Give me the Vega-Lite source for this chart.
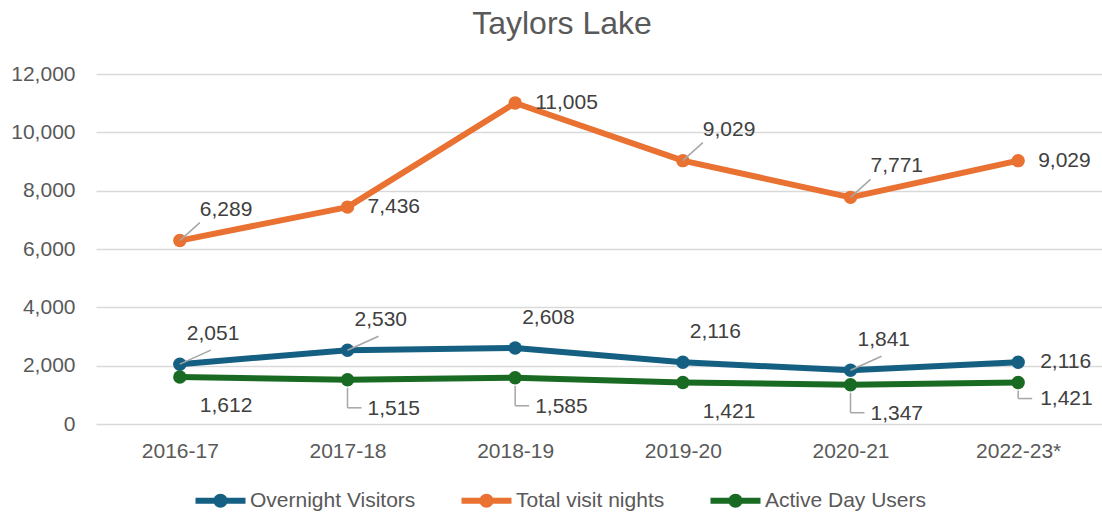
{
  "$schema": "https://vega.github.io/schema/vega-lite/v6.json",
  "width": 1006,
  "height": 350,
  "autosize": "none",
  "padding": {"left": 96, "top": 74, "right": 0, "bottom": 89},
  "background": "white",
  "config": {
    "view": {"stroke": null},
    "font": "Liberation Sans"
  },
  "title": {
    "text": "Taylors Lake",
    "fontSize": 32,
    "fontWeight": "normal",
    "font": "Liberation Sans",
    "color": "#595959",
    "anchor": "middle",
    "frame": "group",
    "dx": -37,
    "offset": 22
  },
  "data": {
    "values": [
      {"year": "2016-17", "series": "Overnight Visitors", "value": 2051},
      {"year": "2017-18", "series": "Overnight Visitors", "value": 2530},
      {"year": "2018-19", "series": "Overnight Visitors", "value": 2608},
      {"year": "2019-20", "series": "Overnight Visitors", "value": 2116},
      {"year": "2020-21", "series": "Overnight Visitors", "value": 1841},
      {"year": "2022-23*", "series": "Overnight Visitors", "value": 2116},
      {"year": "2016-17", "series": "Total visit nights", "value": 6289},
      {"year": "2017-18", "series": "Total visit nights", "value": 7436},
      {"year": "2018-19", "series": "Total visit nights", "value": 11005},
      {"year": "2019-20", "series": "Total visit nights", "value": 9029},
      {"year": "2020-21", "series": "Total visit nights", "value": 7771},
      {"year": "2022-23*", "series": "Total visit nights", "value": 9029},
      {"year": "2016-17", "series": "Active Day Users", "value": 1612},
      {"year": "2017-18", "series": "Active Day Users", "value": 1515},
      {"year": "2018-19", "series": "Active Day Users", "value": 1585},
      {"year": "2019-20", "series": "Active Day Users", "value": 1421},
      {"year": "2020-21", "series": "Active Day Users", "value": 1347},
      {"year": "2022-23*", "series": "Active Day Users", "value": 1421}
    ]
  },
  "encoding": {
    "x": {
      "field": "year",
      "type": "ordinal",
      "sort": null,
      "scale": {"type": "point", "padding": 0.5},
      "axis": {
        "title": null,
        "labelAngle": 0,
        "labelFontSize": 21,
        "labelColor": "#595959",
        "labelFont": "Liberation Sans",
        "labelPadding": 16,
        "ticks": false,
        "domain": false,
        "grid": false
      }
    },
    "y": {
      "field": "value",
      "type": "quantitative",
      "scale": {"domain": [0, 12000], "nice": false, "zero": true},
      "axis": {
        "title": null,
        "values": [0, 2000, 4000, 6000, 8000, 10000, 12000],
        "format": ",d",
        "labelFontSize": 21,
        "labelColor": "#595959",
        "labelFont": "Liberation Sans",
        "labelPadding": 21,
        "ticks": false,
        "domain": false,
        "grid": true,
        "gridColor": "#d9d9d9",
        "gridWidth": 1.5
      }
    }
  },
  "layer": [
    {
      "mark": {"type": "line", "strokeWidth": 6, "strokeCap": "round", "strokeJoin": "round"},
      "encoding": {
        "color": {
          "field": "series",
          "type": "nominal",
          "scale": {
            "domain": ["Overnight Visitors", "Total visit nights", "Active Day Users"],
            "range": ["#156082", "#E97132", "#196B24"]
          },
          "legend": {
            "title": null,
            "orient": "none",
            "direction": "horizontal",
            "legendX": 114,
            "legendY": 416,
            "symbolType": "M-2.5,-0.3L2.5,-0.3L2.5,0.3L-2.5,0.3Z M0.7,0A0.7,0.7,0,1,1,-0.7,0A0.7,0.7,0,1,1,0.7,0Z",
            "symbolSize": 400,
            "symbolStrokeWidth": 0,
            "symbolOpacity": 1,
            "labelOffset": 19,
            "columnPadding": 45,
            "labelFontSize": 21,
            "labelFont": "Liberation Sans",
            "labelColor": "#595959",
            "labelLimit": 400,
            "encode": {
              "symbols": {"update": {"fill": {"scale": "color", "field": "value"}, "strokeWidth": {"value": 0}}}
            }
          }
        }
      }
    },
    {
      "mark": {"type": "point", "filled": true, "size": 180, "opacity": 1},
      "encoding": {
        "color": {"field": "series", "type": "nominal"}
      }
    },
    {
      "transform": [
        {"filter": {"field": "series", "equal": "Total visit nights"}},
        {"filter": {"field": "year", "oneOf": ["2016-17", "2019-20", "2020-21"]}}
      ],
      "mark": {"type": "rule", "color": "#a6a6a6", "strokeWidth": 1.5, "x2Offset": 20, "y2Offset": -18},
      "encoding": {"x2": {"field": "year"}, "y2": {"field": "value"}}
    },
    {
      "transform": [
        {"filter": {"field": "series", "equal": "Overnight Visitors"}},
        {"filter": {"field": "year", "oneOf": ["2016-17", "2017-18", "2020-21"]}}
      ],
      "mark": {"type": "rule", "color": "#a6a6a6", "strokeWidth": 1.5, "x2Offset": 31, "y2Offset": -14},
      "encoding": {"x2": {"field": "year"}, "y2": {"field": "value"}}
    },
    {
      "transform": [
        {"filter": {"field": "series", "equal": "Active Day Users"}},
        {"filter": {"field": "year", "oneOf": ["2017-18", "2018-19", "2020-21"]}}
      ],
      "mark": {"type": "rule", "color": "#a6a6a6", "strokeWidth": 1.5, "yOffset": 8, "y2Offset": 28},
      "encoding": {"y2": {"field": "value"}}
    },
    {
      "transform": [
        {"filter": {"field": "series", "equal": "Active Day Users"}},
        {"filter": {"field": "year", "oneOf": ["2017-18", "2018-19", "2020-21"]}}
      ],
      "mark": {"type": "rule", "color": "#a6a6a6", "strokeWidth": 1.5, "yOffset": 28, "y2Offset": 28, "x2Offset": 14},
      "encoding": {"x2": {"field": "year"}, "y2": {"field": "value"}}
    },
    {
      "transform": [
        {"filter": {"field": "series", "equal": "Active Day Users"}},
        {"filter": {"field": "year", "equal": "2022-23*"}}
      ],
      "mark": {"type": "rule", "color": "#a6a6a6", "strokeWidth": 1.5, "yOffset": 8, "y2Offset": 16},
      "encoding": {"y2": {"field": "value"}}
    },
    {
      "transform": [
        {"filter": {"field": "series", "equal": "Active Day Users"}},
        {"filter": {"field": "year", "equal": "2022-23*"}}
      ],
      "mark": {"type": "rule", "color": "#a6a6a6", "strokeWidth": 1.5, "yOffset": 16, "y2Offset": 16, "x2Offset": 14},
      "encoding": {"x2": {"field": "year"}, "y2": {"field": "value"}}
    },
    {
      "transform": [
        {"filter": {"field": "series", "equal": "Total visit nights"}},
        {"filter": {"field": "year", "oneOf": ["2017-18", "2018-19", "2022-23*"]}}
      ],
      "mark": {"type": "text", "align": "left", "baseline": "middle", "dx": 20, "dy": 0, "fontSize": 21, "color": "#404040"},
      "encoding": {"text": {"field": "value", "type": "quantitative", "format": ","}}
    },
    {
      "transform": [
        {"filter": {"field": "series", "equal": "Total visit nights"}},
        {"filter": {"field": "year", "oneOf": ["2016-17", "2019-20", "2020-21"]}}
      ],
      "mark": {"type": "text", "align": "left", "baseline": "middle", "dx": 20, "dy": -31, "fontSize": 21, "color": "#404040"},
      "encoding": {"text": {"field": "value", "type": "quantitative", "format": ","}}
    },
    {
      "transform": [
        {"filter": {"field": "series", "equal": "Overnight Visitors"}},
        {"filter": {"field": "year", "oneOf": ["2016-17", "2017-18", "2018-19", "2019-20", "2020-21"]}}
      ],
      "mark": {"type": "text", "align": "left", "baseline": "middle", "dx": 7, "dy": -30, "fontSize": 21, "color": "#404040"},
      "encoding": {"text": {"field": "value", "type": "quantitative", "format": ","}}
    },
    {
      "transform": [
        {"filter": {"field": "series", "equal": "Overnight Visitors"}},
        {"filter": {"field": "year", "equal": "2022-23*"}}
      ],
      "mark": {"type": "text", "align": "left", "baseline": "middle", "dx": 22, "dy": 0, "fontSize": 21, "color": "#404040"},
      "encoding": {"text": {"field": "value", "type": "quantitative", "format": ","}}
    },
    {
      "transform": [
        {"filter": {"field": "series", "equal": "Active Day Users"}},
        {"filter": {"field": "year", "oneOf": ["2016-17", "2017-18", "2018-19", "2019-20", "2020-21"]}}
      ],
      "mark": {"type": "text", "align": "left", "baseline": "middle", "dx": 20, "dy": 29, "fontSize": 21, "color": "#404040"},
      "encoding": {"text": {"field": "value", "type": "quantitative", "format": ","}}
    },
    {
      "transform": [
        {"filter": {"field": "series", "equal": "Active Day Users"}},
        {"filter": {"field": "year", "equal": "2022-23*"}}
      ],
      "mark": {"type": "text", "align": "left", "baseline": "middle", "dx": 22, "dy": 16, "fontSize": 21, "color": "#404040"},
      "encoding": {"text": {"field": "value", "type": "quantitative", "format": ","}}
    }
  ]
}
